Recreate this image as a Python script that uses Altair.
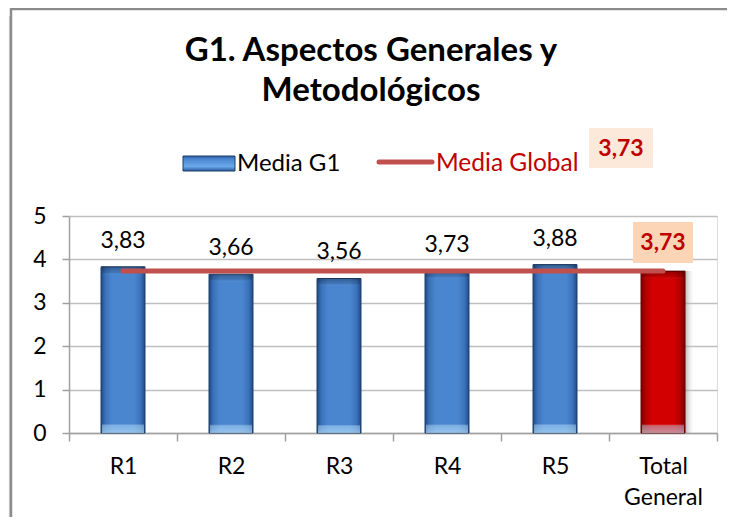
import altair as alt
import pandas as pd

# ---- data ----
categories = ["R1", "R2", "R3", "R4", "R5", "Total General"]
values = [3.83, 3.66, 3.56, 3.73, 3.88, 3.73]
global_mean = 3.73
series_names = ["Media G1", "Media Global"]
title_lines = ["G1. Aspectos Generales y", "Metodológicos"]
y_ticks = [0, 1, 2, 3, 4, 5]
total_cat = "Total General"

FONT = "Lato"

df = pd.DataFrame({"cat": categories, "val": values})
df["lbl"] = [f"{v:.2f}".replace(".", ",") for v in values]
mean_df = pd.DataFrame({"start": [categories[0]], "end": [categories[-1]], "v": [global_mean]})
mean_lbl = f"{global_mean:.2f}".replace(".", ",")

W, H = 648, 217
PAD_R, PAD_B = 10, 84

def grad(stops, horizontal=True):
    return alt.LinearGradient(
        gradient="linear",
        stops=[alt.GradientStop(color=c, offset=o) for o, c in stops],
        x1=0, x2=1 if horizontal else 0, y1=0, y2=0 if horizontal else 1,
    )

blue_grad = grad([(0, "#1F4A85"), (0.1, "#3A72BA"), (0.25, "#4A86D0"),
                  (0.75, "#4A86D0"), (0.9, "#3A72BA"), (1, "#1F4A85")])
red_grad = grad([(0, "#7A0000"), (0.1, "#B00000"), (0.25, "#D20000"),
                 (0.75, "#D20000"), (0.9, "#B00000"), (1, "#7A0000")])
bevel_grad = grad([(0, "rgba(0,0,0,0.30)"), (0.035, "rgba(0,0,0,0.10)"),
                   (0.05, "rgba(255,255,255,0)"), (0.945, "rgba(255,255,255,0)"),
                   (0.955, "rgba(190,230,255,0.45)"), (1, "rgba(200,235,255,0.6)")],
                  horizontal=False)
swatch_grad = grad([(0, "#2A5A9C"), (0.2, "#4A86D0"), (0.7, "#6AA8EA"), (1, "#2A5A9C")],
                   horizontal=False)
shadow_grad = grad([(0, "rgba(120,120,120,0.55)"), (1, "rgba(255,255,255,0)")])
frame_shadow_grad = grad([(0, "rgba(255,255,255,0)"), (1, "rgba(120,120,120,0.6)")])

xsort = categories
x_enc = alt.X("cat:N", sort=xsort, scale=alt.Scale(paddingInner=0, paddingOuter=0),
              axis=alt.Axis(title=None, labelAngle=0, tickBand="extent", tickSize=8,
                            labelPadding=14, labelFontSize=23, labelFont=FONT,
                            labelColor="#000000", labelLineHeight=31,
                            domainColor="#A0A0A0", tickColor="#A0A0A0",
                            domainWidth=1.5, tickWidth=1.5, grid=False,
                            labelExpr="datum.value == 'Total General' ? ['Total', 'General'] : datum.value"))
y_enc = alt.Y("val:Q", scale=alt.Scale(domain=[0, 5], nice=False),
              axis=alt.Axis(title=None, values=y_ticks, grid=True, gridColor="#BFBFBF",
                            gridWidth=1.5, tickSize=7, labelPadding=16, labelFontSize=23,
                            labelFont=FONT, labelColor="#000000", domainColor="#A0A0A0",
                            tickColor="#A0A0A0", domainWidth=1.5, tickWidth=1.5))

one = alt.Data(values=[{"a": 1}])

# frame around the whole chart (decoration): top and left edges only are visible
frame_top = alt.Chart(one).mark_rule(color="#8C8C8C", strokeWidth=2.5).encode(
    x=alt.value(-59), x2=alt.value(W + PAD_R), y=alt.value(-207))
frame_left = alt.Chart(one).mark_rule(color="#8C8C8C", strokeWidth=2.5).encode(
    x=alt.value(-58), y=alt.value(-208), y2=alt.value(H + PAD_B))
frame_shadow = alt.Chart(one).mark_rect(fill=frame_shadow_grad).encode(
    x=alt.value(-61), x2=alt.value(-59), y=alt.value(-200), y2=alt.value(H + PAD_B))

base = alt.Chart(df)

shadow = base.transform_filter(alt.datum.cat == total_cat).mark_bar(
    width=10, xOffset=27, fill=shadow_grad).encode(x=x_enc, y=y_enc)

blue = base.transform_filter(alt.datum.cat != total_cat).mark_bar(
    width=44, fill=blue_grad, stroke="#1F3F6A", strokeWidth=1).encode(x=x_enc, y=y_enc)
red = base.transform_filter(alt.datum.cat == total_cat).mark_bar(
    width=44, fill=red_grad, stroke="#6A0000", strokeWidth=1).encode(x=x_enc, y=y_enc)
bevel = base.mark_bar(width=42, fill=bevel_grad).encode(x=x_enc, y=y_enc)

mean_line = alt.Chart(mean_df).mark_rule(color="#C0504D", strokeWidth=5, strokeCap="round").encode(
    x=alt.X("start:N", sort=xsort), x2="end:N", y=alt.Y("v:Q"))

labels = base.transform_filter(alt.datum.cat != total_cat).mark_text(
    dy=-26, baseline="middle", fontSize=23, font=FONT, color="#000000").encode(
    x=x_enc, y=y_enc, text="lbl:N")

total_box = base.transform_filter(alt.datum.cat == total_cat).mark_bar(
    width=60, yOffset=-8, y2Offset=-49, fill="#FBD5B5").encode(
    x=x_enc, y=y_enc, y2="val:Q")
total_lbl = base.transform_filter(alt.datum.cat == total_cat).mark_text(
    dy=-28, baseline="middle", fontSize=23, font=FONT, fontWeight="bold", color="#C00000").encode(
    x=x_enc, y=y_enc, text="lbl:N")

# legend (decoration)
leg_sw = alt.Chart(one).mark_rect(fill=swatch_grad, stroke="#1F3F6A", strokeWidth=1).encode(
    x=alt.value(114), x2=alt.value(166), y=alt.value(-60), y2=alt.value(-45))
leg_t1 = alt.Chart(alt.Data(values=[{"t": series_names[0]}])).mark_text(
    align="left", baseline="alphabetic", fontSize=24, font=FONT, color="#000000").encode(
    x=alt.value(168), y=alt.value(-45), text="t:N")
leg_line = alt.Chart(one).mark_rule(color="#C0504D", strokeWidth=5, strokeCap="round").encode(
    x=alt.value(310), x2=alt.value(363), y=alt.value(-54))
leg_t2 = alt.Chart(alt.Data(values=[{"t": series_names[1]}])).mark_text(
    align="left", baseline="alphabetic", fontSize=24.5, font=FONT, color="#C00000").encode(
    x=alt.value(367), y=alt.value(-45), text="t:N")
leg_box = alt.Chart(one).mark_rect(fill="#FDE9D9").encode(
    x=alt.value(520), x2=alt.value(584), y=alt.value(-88), y2=alt.value(-48))
leg_val = alt.Chart(alt.Data(values=[{"t": mean_lbl}])).mark_text(
    align="center", baseline="middle", fontSize=23, font=FONT, fontWeight="bold", color="#C00000").encode(
    x=alt.value(552), y=alt.value(-67), text="t:N")

chart = alt.layer(
    frame_shadow, frame_top, frame_left, shadow, blue, red, bevel, mean_line, labels,
    total_box, total_lbl, leg_sw, leg_t1, leg_line, leg_t2, leg_box, leg_val,
).properties(
    width=W, height=H,
    autosize=alt.AutoSizeParams(type="none"),
    padding={"left": 61, "top": 208, "right": PAD_R, "bottom": PAD_B},
    title=alt.Title(title_lines, fontSize=33, font=FONT, fontWeight="bold", color="#000000",
                    lineHeight=40, anchor="middle", dx=-22, offset=-101),
).configure_view(stroke=None).configure(background="white")

chart.save("out.html", embed_options={"renderer": "svg", "actions": False})
